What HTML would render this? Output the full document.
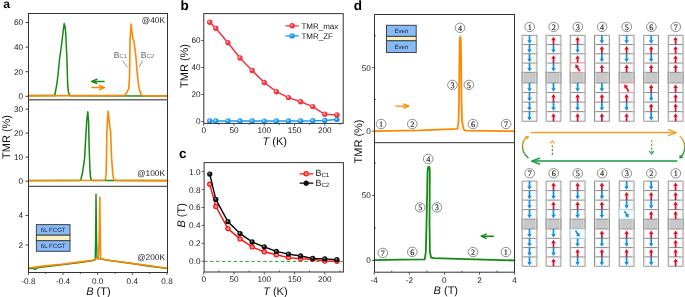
<!DOCTYPE html>
<html><head><meta charset="utf-8"><style>
html,body{margin:0;padding:0;background:#fff;width:685px;height:297px;overflow:hidden}
svg{display:block;will-change:transform}
text{font-family:"Liberation Sans",sans-serif;text-rendering:geometricPrecision} text.sf{font-family:"Liberation Serif",serif}
</style></head><body>
<svg width="685" height="297" viewBox="0 0 685 297" font-family='"Liberation Sans",sans-serif'>
<text x="3.2" y="8.2" font-size="12.2" text-anchor="start" fill="#000" font-weight="bold">a</text>
<line x1="25.5" y1="96.3" x2="28.5" y2="96.3" stroke="#333" stroke-width="0.9" />
<text x="23.0" y="99.25" font-size="8.2" text-anchor="end" fill="#222" >0</text>
<line x1="25.5" y1="71.7" x2="28.5" y2="71.7" stroke="#333" stroke-width="0.9" />
<text x="23.0" y="74.65" font-size="8.2" text-anchor="end" fill="#222" >20</text>
<line x1="25.5" y1="47.1" x2="28.5" y2="47.1" stroke="#333" stroke-width="0.9" />
<text x="23.0" y="50.050000000000004" font-size="8.2" text-anchor="end" fill="#222" >40</text>
<line x1="25.5" y1="22.5" x2="28.5" y2="22.5" stroke="#333" stroke-width="0.9" />
<text x="23.0" y="25.45" font-size="8.2" text-anchor="end" fill="#222" >60</text>
<line x1="25.5" y1="181.2" x2="28.5" y2="181.2" stroke="#333" stroke-width="0.9" />
<text x="23.0" y="184.14999999999998" font-size="8.2" text-anchor="end" fill="#222" >0</text>
<line x1="25.5" y1="157.2" x2="28.5" y2="157.2" stroke="#333" stroke-width="0.9" />
<text x="23.0" y="160.14999999999998" font-size="8.2" text-anchor="end" fill="#222" >10</text>
<line x1="25.5" y1="133.2" x2="28.5" y2="133.2" stroke="#333" stroke-width="0.9" />
<text x="23.0" y="136.14999999999998" font-size="8.2" text-anchor="end" fill="#222" >20</text>
<line x1="25.5" y1="109.2" x2="28.5" y2="109.2" stroke="#333" stroke-width="0.9" />
<text x="23.0" y="112.15" font-size="8.2" text-anchor="end" fill="#222" >30</text>
<line x1="25.5" y1="245" x2="28.5" y2="245" stroke="#333" stroke-width="0.9" />
<text x="23.0" y="247.95" font-size="8.2" text-anchor="end" fill="#222" >2</text>
<line x1="25.5" y1="215.4" x2="28.5" y2="215.4" stroke="#333" stroke-width="0.9" />
<text x="23.0" y="218.35" font-size="8.2" text-anchor="end" fill="#222" >4</text>
<line x1="28.4" y1="272.5" x2="28.4" y2="275.0" stroke="#333" stroke-width="0.8" />
<line x1="63.0" y1="272.5" x2="63.0" y2="275.0" stroke="#333" stroke-width="0.8" />
<line x1="97.7" y1="272.5" x2="97.7" y2="275.0" stroke="#333" stroke-width="0.8" />
<line x1="132.3" y1="272.5" x2="132.3" y2="275.0" stroke="#333" stroke-width="0.8" />
<line x1="167.0" y1="272.5" x2="167.0" y2="275.0" stroke="#333" stroke-width="0.8" />
<line x1="45.7" y1="272.5" x2="45.7" y2="274.0" stroke="#333" stroke-width="0.8" />
<line x1="80.4" y1="272.5" x2="80.4" y2="274.0" stroke="#333" stroke-width="0.8" />
<line x1="115.0" y1="272.5" x2="115.0" y2="274.0" stroke="#333" stroke-width="0.8" />
<line x1="149.7" y1="272.5" x2="149.7" y2="274.0" stroke="#333" stroke-width="0.8" />
<text x="28.4" y="283.7" font-size="8.2" text-anchor="middle" fill="#222" >-0.8</text>
<text x="63.0" y="283.7" font-size="8.2" text-anchor="middle" fill="#222" >-0.4</text>
<text x="97.7" y="283.7" font-size="8.2" text-anchor="middle" fill="#222" >0.0</text>
<text x="132.3" y="283.7" font-size="8.2" text-anchor="middle" fill="#222" >0.4</text>
<text x="167.0" y="283.7" font-size="8.2" text-anchor="middle" fill="#222" >0.8</text>
<text x="98.4" y="294.6" font-size="11" text-anchor="middle" fill="#111"><tspan font-style="italic">B</tspan> (T)</text>
<text transform="translate(9.6,137) rotate(-90)" font-size="11" text-anchor="middle" fill="#111">TMR (%)</text>
<polyline points="28.50,95.60 54.00,95.50 54.80,95.00 56.90,84.00 58.30,72.00 59.60,58.50 61.50,45.00 63.20,31.00 64.20,23.60 65.10,27.00 65.80,34.20 66.90,58.50 67.70,85.60 68.50,92.50 69.60,95.20 71.00,95.80 167.50,96.00" fill="none" stroke="#138a13" stroke-width="1.5" stroke-linejoin="round" stroke-linecap="round" />
<polyline points="28.50,95.90 124.50,95.40 126.40,93.40 128.80,88.50 129.50,77.20 129.80,58.00 130.10,38.20 131.10,24.10 131.90,31.50 132.80,38.20 133.90,41.00 135.80,56.00 137.00,70.10 138.40,84.20 139.80,91.30 141.20,94.50 142.60,95.60 167.50,96.10" fill="none" stroke="#ff8800" stroke-width="1.6" stroke-linejoin="round" stroke-linecap="round" />
<polyline points="104.00,81.40 91.80,81.40" fill="none" stroke="#138a13" stroke-width="1.5" stroke-linejoin="round" stroke-linecap="round" />
<polyline points="96.90,79.30 91.80,81.40 96.90,83.50" fill="none" stroke="#138a13" stroke-width="1.5" stroke-linejoin="round" stroke-linecap="round" />
<polyline points="92.00,87.50 104.30,87.50" fill="none" stroke="#ff8800" stroke-width="1.5" stroke-linejoin="round" stroke-linecap="round" />
<polyline points="99.40,85.40 104.30,87.50 99.40,89.60" fill="none" stroke="#ff8800" stroke-width="1.5" stroke-linejoin="round" stroke-linecap="round" />
<text x="113.8" y="58" font-size="8.6" fill="#707070">B<tspan font-size="5.8" dy="0">C1</tspan></text>
<text x="140.8" y="58" font-size="8.6" fill="#707070">B<tspan font-size="5.8" dy="0">C2</tspan></text>
<line x1="122.5" y1="60.4" x2="127.6" y2="67.4" stroke="#707070" stroke-width="0.7" />
<line x1="142.7" y1="60.4" x2="139.1" y2="67.0" stroke="#707070" stroke-width="0.7" />
<text x="165.0" y="22.8" font-size="8.3" text-anchor="end" fill="#1a1a1a" >@40K</text>
<polyline points="28.50,180.60 80.00,180.40 80.70,180.20 82.50,172.80 84.60,158.40 86.00,132.20 87.10,117.00 87.80,111.80 88.60,121.70 89.10,145.30 89.90,168.90 90.50,177.00 91.20,180.00 92.50,180.50 167.50,180.60" fill="none" stroke="#138a13" stroke-width="1.5" stroke-linejoin="round" stroke-linecap="round" />
<polyline points="28.50,180.80 104.60,180.20 105.30,179.50 106.10,174.00 106.40,160.00 106.90,132.20 107.60,118.00 108.20,111.20 109.50,124.30 110.60,132.20 111.60,158.40 112.70,172.80 113.50,178.50 114.30,180.20 116.00,180.40 167.50,180.90" fill="none" stroke="#ff8800" stroke-width="1.6" stroke-linejoin="round" stroke-linecap="round" />
<text x="165.0" y="175.5" font-size="8.3" text-anchor="end" fill="#1a1a1a" >@100K</text>
<polyline points="28.50,268.50 33.00,268.30 35.30,269.30 37.50,267.90 45.00,266.70 61.30,264.90 80.00,262.50 92.00,260.90 95.20,259.80 95.60,240.00 96.00,194.30 96.60,240.00 97.00,257.60 98.30,258.60 110.00,260.50 130.00,263.30 150.00,266.20 167.50,268.60" fill="none" stroke="#138a13" stroke-width="1.4" stroke-linejoin="round" stroke-linecap="round" />
<polyline points="28.50,268.00 45.00,265.90 61.30,264.30 80.00,261.90 92.00,260.30 98.40,258.40 99.20,240.00 99.80,197.30 100.30,240.00 100.60,258.80 110.00,260.50 130.00,263.10 150.00,265.80 167.50,268.30" fill="none" stroke="#ff8800" stroke-width="1.6" stroke-linejoin="round" stroke-linecap="round" />
<text x="165.0" y="260.2" font-size="8.3" text-anchor="end" fill="#1a1a1a" >@200K</text>
<rect x="36.4" y="224.6" width="33.6" height="10.599999999999994" fill="#88baf8" stroke="#444" stroke-width="1"/>
<rect x="36.4" y="235.2" width="33.6" height="5.5" fill="#fbf3bf" stroke="#444" stroke-width="1"/>
<rect x="36.4" y="240.7" width="33.6" height="10.600000000000023" fill="#88baf8" stroke="#444" stroke-width="1"/>
<text x="53.2" y="232.09599999999998" font-size="6.1" text-anchor="middle" fill="#1c2230" >6L FCGT</text>
<text x="53.2" y="248.196" font-size="6.1" text-anchor="middle" fill="#1c2230" >6L FCGT</text>
<rect x="28.5" y="13.5" width="139.0" height="259.0" fill="none" stroke="#333" stroke-width="1"/>
<line x1="28.5" y1="99.8" x2="167.5" y2="99.8" stroke="#6a6a6a" stroke-width="1.6" />
<line x1="28.5" y1="186.3" x2="167.5" y2="186.3" stroke="#333" stroke-width="1" />
<text x="180.4" y="9.8" font-size="13.5" text-anchor="start" fill="#000" font-weight="bold">b</text>
<line x1="201.3" y1="121.5" x2="203.8" y2="121.5" stroke="#333" stroke-width="0.8" />
<text x="200.5" y="124.45" font-size="8.2" text-anchor="end" fill="#222" >0</text>
<line x1="201.3" y1="94.5" x2="203.8" y2="94.5" stroke="#333" stroke-width="0.8" />
<text x="200.5" y="97.45" font-size="8.2" text-anchor="end" fill="#222" >20</text>
<line x1="201.3" y1="67.5" x2="203.8" y2="67.5" stroke="#333" stroke-width="0.8" />
<text x="200.5" y="70.45" font-size="8.2" text-anchor="end" fill="#222" >40</text>
<line x1="201.3" y1="40.5" x2="203.8" y2="40.5" stroke="#333" stroke-width="0.8" />
<text x="200.5" y="43.45" font-size="8.2" text-anchor="end" fill="#222" >60</text>
<line x1="203.7" y1="123.4" x2="203.7" y2="125.9" stroke="#333" stroke-width="0.8" />
<text x="203.7" y="133.3" font-size="8.2" text-anchor="middle" fill="#222" >0</text>
<line x1="233.975" y1="123.4" x2="233.975" y2="125.9" stroke="#333" stroke-width="0.8" />
<text x="233.975" y="133.3" font-size="8.2" text-anchor="middle" fill="#222" >50</text>
<line x1="264.25" y1="123.4" x2="264.25" y2="125.9" stroke="#333" stroke-width="0.8" />
<text x="264.25" y="133.3" font-size="8.2" text-anchor="middle" fill="#222" >100</text>
<line x1="294.525" y1="123.4" x2="294.525" y2="125.9" stroke="#333" stroke-width="0.8" />
<text x="294.525" y="133.3" font-size="8.2" text-anchor="middle" fill="#222" >150</text>
<line x1="324.8" y1="123.4" x2="324.8" y2="125.9" stroke="#333" stroke-width="0.8" />
<text x="324.8" y="133.3" font-size="8.2" text-anchor="middle" fill="#222" >200</text>
<line x1="218.83749999999998" y1="123.4" x2="218.83749999999998" y2="124.9" stroke="#333" stroke-width="0.8" />
<line x1="249.11249999999998" y1="123.4" x2="249.11249999999998" y2="124.9" stroke="#333" stroke-width="0.8" />
<line x1="279.3875" y1="123.4" x2="279.3875" y2="124.9" stroke="#333" stroke-width="0.8" />
<line x1="309.6625" y1="123.4" x2="309.6625" y2="124.9" stroke="#333" stroke-width="0.8" />
<line x1="339.9375" y1="123.4" x2="339.9375" y2="124.9" stroke="#333" stroke-width="0.8" />
<text x="274.8" y="145.2" font-size="11" text-anchor="middle" fill="#111"><tspan font-style="italic">T</tspan> (K)</text>
<text transform="translate(188.0,66) rotate(-90)" font-size="11" text-anchor="middle" fill="#111">TMR (%)</text>
<polyline points="209.75,121.00 215.81,121.00 227.92,121.00 240.03,121.00 252.14,121.00 264.25,121.10 276.36,121.00 288.47,121.00 300.58,120.90 312.69,120.80 324.80,120.40 336.91,119.40" fill="none" stroke="#179cf5" stroke-width="1.5" stroke-linejoin="round" stroke-linecap="round" />
<circle cx="209.75" cy="121.00" r="2.7" fill="#179cf5"/>
<circle cx="209.16" cy="120.40" r="1.13" fill="#9fd6ff"/>
<circle cx="215.81" cy="121.00" r="2.7" fill="#179cf5"/>
<circle cx="215.21" cy="120.40" r="1.13" fill="#9fd6ff"/>
<circle cx="227.92" cy="121.00" r="2.7" fill="#179cf5"/>
<circle cx="227.32" cy="120.40" r="1.13" fill="#9fd6ff"/>
<circle cx="240.03" cy="121.00" r="2.7" fill="#179cf5"/>
<circle cx="239.43" cy="120.40" r="1.13" fill="#9fd6ff"/>
<circle cx="252.14" cy="121.00" r="2.7" fill="#179cf5"/>
<circle cx="251.54" cy="120.40" r="1.13" fill="#9fd6ff"/>
<circle cx="264.25" cy="121.10" r="2.7" fill="#179cf5"/>
<circle cx="263.65" cy="120.50" r="1.13" fill="#9fd6ff"/>
<circle cx="276.36" cy="121.00" r="2.7" fill="#179cf5"/>
<circle cx="275.76" cy="120.40" r="1.13" fill="#9fd6ff"/>
<circle cx="288.47" cy="121.00" r="2.7" fill="#179cf5"/>
<circle cx="287.87" cy="120.40" r="1.13" fill="#9fd6ff"/>
<circle cx="300.58" cy="120.90" r="2.7" fill="#179cf5"/>
<circle cx="299.98" cy="120.30" r="1.13" fill="#9fd6ff"/>
<circle cx="312.69" cy="120.80" r="2.7" fill="#179cf5"/>
<circle cx="312.09" cy="120.20" r="1.13" fill="#9fd6ff"/>
<circle cx="324.80" cy="120.40" r="2.7" fill="#179cf5"/>
<circle cx="324.20" cy="119.80" r="1.13" fill="#9fd6ff"/>
<circle cx="336.91" cy="119.40" r="2.7" fill="#179cf5"/>
<circle cx="336.31" cy="118.80" r="1.13" fill="#9fd6ff"/>
<polyline points="209.75,22.20 215.81,28.20 227.92,42.70 240.03,58.00 252.14,70.50 264.25,82.50 276.36,91.70 288.47,97.60 300.58,101.80 312.69,106.60 324.80,114.30 336.91,114.90" fill="none" stroke="#f2343f" stroke-width="1.5" stroke-linejoin="round" stroke-linecap="round" />
<circle cx="209.75" cy="22.20" r="2.7" fill="#f2343f"/>
<circle cx="209.16" cy="21.60" r="1.13" fill="#ffb0b5"/>
<circle cx="215.81" cy="28.20" r="2.7" fill="#f2343f"/>
<circle cx="215.21" cy="27.60" r="1.13" fill="#ffb0b5"/>
<circle cx="227.92" cy="42.70" r="2.7" fill="#f2343f"/>
<circle cx="227.32" cy="42.10" r="1.13" fill="#ffb0b5"/>
<circle cx="240.03" cy="58.00" r="2.7" fill="#f2343f"/>
<circle cx="239.43" cy="57.40" r="1.13" fill="#ffb0b5"/>
<circle cx="252.14" cy="70.50" r="2.7" fill="#f2343f"/>
<circle cx="251.54" cy="69.90" r="1.13" fill="#ffb0b5"/>
<circle cx="264.25" cy="82.50" r="2.7" fill="#f2343f"/>
<circle cx="263.65" cy="81.90" r="1.13" fill="#ffb0b5"/>
<circle cx="276.36" cy="91.70" r="2.7" fill="#f2343f"/>
<circle cx="275.76" cy="91.10" r="1.13" fill="#ffb0b5"/>
<circle cx="288.47" cy="97.60" r="2.7" fill="#f2343f"/>
<circle cx="287.87" cy="97.00" r="1.13" fill="#ffb0b5"/>
<circle cx="300.58" cy="101.80" r="2.7" fill="#f2343f"/>
<circle cx="299.98" cy="101.20" r="1.13" fill="#ffb0b5"/>
<circle cx="312.69" cy="106.60" r="2.7" fill="#f2343f"/>
<circle cx="312.09" cy="106.00" r="1.13" fill="#ffb0b5"/>
<circle cx="324.80" cy="114.30" r="2.7" fill="#f2343f"/>
<circle cx="324.20" cy="113.70" r="1.13" fill="#ffb0b5"/>
<circle cx="336.91" cy="114.90" r="2.7" fill="#f2343f"/>
<circle cx="336.31" cy="114.30" r="1.13" fill="#ffb0b5"/>
<polyline points="285.80,25.80 298.30,25.80" fill="none" stroke="#f2343f" stroke-width="1.3" stroke-linejoin="round" stroke-linecap="round" />
<circle cx="292.1" cy="25.8" r="2.7" fill="#f2343f"/><circle cx="291.5" cy="25.2" r="1" fill="#ffb0b5"/>
<text x="301.4" y="28.6" font-size="8" text-anchor="start" fill="#222" >TMR_max</text>
<polyline points="285.80,35.90 298.30,35.90" fill="none" stroke="#179cf5" stroke-width="1.3" stroke-linejoin="round" stroke-linecap="round" />
<circle cx="292.1" cy="35.9" r="2.7" fill="#179cf5"/><circle cx="291.5" cy="35.3" r="1" fill="#9fd6ff"/>
<text x="301.4" y="38.7" font-size="8" text-anchor="start" fill="#222" >TMR_ZF</text>
<rect x="203.8" y="13.6" width="139.39999999999998" height="109.80000000000001" fill="none" stroke="#333" stroke-width="1"/>
<text x="179.0" y="157.6" font-size="13.4" text-anchor="start" fill="#000" font-weight="bold">c</text>
<line x1="201.6" y1="261.2" x2="204.1" y2="261.2" stroke="#333" stroke-width="0.8" />
<text x="200.5" y="264.15" font-size="8.2" text-anchor="end" fill="#222" >0.0</text>
<line x1="201.6" y1="243.29999999999998" x2="204.1" y2="243.29999999999998" stroke="#333" stroke-width="0.8" />
<text x="200.5" y="246.24999999999997" font-size="8.2" text-anchor="end" fill="#222" >0.2</text>
<line x1="201.6" y1="225.39999999999998" x2="204.1" y2="225.39999999999998" stroke="#333" stroke-width="0.8" />
<text x="200.5" y="228.34999999999997" font-size="8.2" text-anchor="end" fill="#222" >0.4</text>
<line x1="201.6" y1="207.5" x2="204.1" y2="207.5" stroke="#333" stroke-width="0.8" />
<text x="200.5" y="210.45" font-size="8.2" text-anchor="end" fill="#222" >0.6</text>
<line x1="201.6" y1="189.59999999999997" x2="204.1" y2="189.59999999999997" stroke="#333" stroke-width="0.8" />
<text x="200.5" y="192.54999999999995" font-size="8.2" text-anchor="end" fill="#222" >0.8</text>
<line x1="201.6" y1="171.7" x2="204.1" y2="171.7" stroke="#333" stroke-width="0.8" />
<text x="200.5" y="174.64999999999998" font-size="8.2" text-anchor="end" fill="#222" >1.0</text>
<line x1="203.7" y1="272.0" x2="203.7" y2="274.5" stroke="#333" stroke-width="0.8" />
<text x="203.7" y="282.4" font-size="8.2" text-anchor="middle" fill="#222" >0</text>
<line x1="233.975" y1="272.0" x2="233.975" y2="274.5" stroke="#333" stroke-width="0.8" />
<text x="233.975" y="282.4" font-size="8.2" text-anchor="middle" fill="#222" >50</text>
<line x1="264.25" y1="272.0" x2="264.25" y2="274.5" stroke="#333" stroke-width="0.8" />
<text x="264.25" y="282.4" font-size="8.2" text-anchor="middle" fill="#222" >100</text>
<line x1="294.525" y1="272.0" x2="294.525" y2="274.5" stroke="#333" stroke-width="0.8" />
<text x="294.525" y="282.4" font-size="8.2" text-anchor="middle" fill="#222" >150</text>
<line x1="324.8" y1="272.0" x2="324.8" y2="274.5" stroke="#333" stroke-width="0.8" />
<text x="324.8" y="282.4" font-size="8.2" text-anchor="middle" fill="#222" >200</text>
<line x1="218.83749999999998" y1="272.0" x2="218.83749999999998" y2="270.5" stroke="#333" stroke-width="0.8" />
<line x1="249.11249999999998" y1="272.0" x2="249.11249999999998" y2="270.5" stroke="#333" stroke-width="0.8" />
<line x1="279.3875" y1="272.0" x2="279.3875" y2="270.5" stroke="#333" stroke-width="0.8" />
<line x1="309.6625" y1="272.0" x2="309.6625" y2="270.5" stroke="#333" stroke-width="0.8" />
<line x1="339.9375" y1="272.0" x2="339.9375" y2="270.5" stroke="#333" stroke-width="0.8" />
<text x="275.4" y="295.3" font-size="11" text-anchor="middle" fill="#111"><tspan font-style="italic">T</tspan> (K)</text>
<text transform="translate(185.2,215.4) rotate(-90)" font-size="11" text-anchor="middle" fill="#111"><tspan font-style="italic">B</tspan> (T)</text>
<line x1="204.1" y1="261.4" x2="343.4" y2="261.4" stroke="#2ca02c" stroke-width="1" stroke-dasharray="3.5,2.4"/>
<polyline points="209.75,184.30 215.81,206.40 227.92,228.60 240.03,238.90 252.14,246.90 264.25,251.80 276.36,254.70 288.47,257.60 300.58,258.70 312.69,259.30 324.80,261.00 336.91,261.30" fill="none" stroke="#ff1010" stroke-width="1.4" stroke-linejoin="round" stroke-linecap="round" />
<circle cx="209.75" cy="184.3" r="2.1" fill="#ff9090" stroke="#ff1010" stroke-width="1.2"/>
<circle cx="215.81" cy="206.4" r="2.1" fill="#ff9090" stroke="#ff1010" stroke-width="1.2"/>
<circle cx="227.92" cy="228.6" r="2.1" fill="#ff9090" stroke="#ff1010" stroke-width="1.2"/>
<circle cx="240.03" cy="238.9" r="2.1" fill="#ff9090" stroke="#ff1010" stroke-width="1.2"/>
<circle cx="252.14" cy="246.9" r="2.1" fill="#ff9090" stroke="#ff1010" stroke-width="1.2"/>
<circle cx="264.25" cy="251.8" r="2.1" fill="#ff9090" stroke="#ff1010" stroke-width="1.2"/>
<circle cx="276.36" cy="254.7" r="2.1" fill="#ff9090" stroke="#ff1010" stroke-width="1.2"/>
<circle cx="288.47" cy="257.6" r="2.1" fill="#ff9090" stroke="#ff1010" stroke-width="1.2"/>
<circle cx="300.58" cy="258.7" r="2.1" fill="#ff9090" stroke="#ff1010" stroke-width="1.2"/>
<circle cx="312.69" cy="259.3" r="2.1" fill="#ff9090" stroke="#ff1010" stroke-width="1.2"/>
<circle cx="324.80" cy="261.0" r="2.1" fill="#ff9090" stroke="#ff1010" stroke-width="1.2"/>
<circle cx="336.91" cy="261.3" r="2.1" fill="#ff9090" stroke="#ff1010" stroke-width="1.2"/>
<polyline points="209.75,174.10 215.81,199.30 227.92,221.70 240.03,233.60 252.14,241.90 264.25,246.80 276.36,251.40 288.47,254.10 300.58,256.00 312.69,258.40 324.80,258.90 336.91,259.70" fill="none" stroke="#000" stroke-width="1.4" stroke-linejoin="round" stroke-linecap="round" />
<circle cx="209.75" cy="174.1" r="2.65" fill="#111"/>
<circle cx="209.25" cy="173.5" r="0.9" fill="#888"/>
<circle cx="215.81" cy="199.3" r="2.65" fill="#111"/>
<circle cx="215.31" cy="198.70000000000002" r="0.9" fill="#888"/>
<circle cx="227.92" cy="221.7" r="2.65" fill="#111"/>
<circle cx="227.42" cy="221.1" r="0.9" fill="#888"/>
<circle cx="240.03" cy="233.6" r="2.65" fill="#111"/>
<circle cx="239.53" cy="233.0" r="0.9" fill="#888"/>
<circle cx="252.14" cy="241.9" r="2.65" fill="#111"/>
<circle cx="251.64" cy="241.3" r="0.9" fill="#888"/>
<circle cx="264.25" cy="246.8" r="2.65" fill="#111"/>
<circle cx="263.75" cy="246.20000000000002" r="0.9" fill="#888"/>
<circle cx="276.36" cy="251.4" r="2.65" fill="#111"/>
<circle cx="275.86" cy="250.8" r="0.9" fill="#888"/>
<circle cx="288.47" cy="254.1" r="2.65" fill="#111"/>
<circle cx="287.97" cy="253.5" r="0.9" fill="#888"/>
<circle cx="300.58" cy="256.0" r="2.65" fill="#111"/>
<circle cx="300.08" cy="255.4" r="0.9" fill="#888"/>
<circle cx="312.69" cy="258.4" r="2.65" fill="#111"/>
<circle cx="312.19" cy="257.79999999999995" r="0.9" fill="#888"/>
<circle cx="324.80" cy="258.9" r="2.65" fill="#111"/>
<circle cx="324.30" cy="258.29999999999995" r="0.9" fill="#888"/>
<circle cx="336.91" cy="259.7" r="2.65" fill="#111"/>
<circle cx="336.41" cy="259.09999999999997" r="0.9" fill="#888"/>
<polyline points="300.10,173.80 312.80,173.80" fill="none" stroke="#ff1010" stroke-width="1.3" stroke-linejoin="round" stroke-linecap="round" />
<circle cx="306.2" cy="173.8" r="2.1" fill="#ff9090" stroke="#ff1010" stroke-width="1.2"/>
<text x="315.4" y="176.3" font-size="9" fill="#111">B<tspan font-size="6.2" dy="0.7">C1</tspan></text>
<polyline points="300.10,183.20 312.80,183.20" fill="none" stroke="#000" stroke-width="1.3" stroke-linejoin="round" stroke-linecap="round" />
<circle cx="306.2" cy="183.2" r="2.6" fill="#111"/>
<text x="315.4" y="185.9" font-size="9" fill="#111">B<tspan font-size="6.2" dy="0.7">C2</tspan></text>
<rect x="204.1" y="162.6" width="139.29999999999998" height="109.4" fill="none" stroke="#333" stroke-width="1"/>
<text x="353.7" y="9.8" font-size="13.5" text-anchor="start" fill="#000" font-weight="bold">d</text>
<line x1="372.0" y1="131.2" x2="374.5" y2="131.2" stroke="#333" stroke-width="0.8" />
<text x="370.9" y="134.14999999999998" font-size="8.2" text-anchor="end" fill="#222" >0</text>
<line x1="372.0" y1="67.6" x2="374.5" y2="67.6" stroke="#333" stroke-width="0.8" />
<text x="370.9" y="70.55" font-size="8.2" text-anchor="end" fill="#222" >50</text>
<line x1="372.0" y1="260.4" x2="374.5" y2="260.4" stroke="#333" stroke-width="0.8" />
<text x="370.9" y="263.34999999999997" font-size="8.2" text-anchor="end" fill="#222" >0</text>
<line x1="372.0" y1="195.5" x2="374.5" y2="195.5" stroke="#333" stroke-width="0.8" />
<text x="370.9" y="198.45" font-size="8.2" text-anchor="end" fill="#222" >50</text>
<line x1="374.2" y1="272.2" x2="374.2" y2="274.7" stroke="#333" stroke-width="0.8" />
<text x="374.2" y="283.3" font-size="8.2" text-anchor="middle" fill="#222" >-4</text>
<line x1="409.29999999999995" y1="272.2" x2="409.29999999999995" y2="274.7" stroke="#333" stroke-width="0.8" />
<text x="409.29999999999995" y="283.3" font-size="8.2" text-anchor="middle" fill="#222" >-2</text>
<line x1="444.4" y1="272.2" x2="444.4" y2="274.7" stroke="#333" stroke-width="0.8" />
<text x="444.4" y="283.3" font-size="8.2" text-anchor="middle" fill="#222" >0</text>
<line x1="479.5" y1="272.2" x2="479.5" y2="274.7" stroke="#333" stroke-width="0.8" />
<text x="479.5" y="283.3" font-size="8.2" text-anchor="middle" fill="#222" >2</text>
<line x1="514.6" y1="272.2" x2="514.6" y2="274.7" stroke="#333" stroke-width="0.8" />
<text x="514.6" y="283.3" font-size="8.2" text-anchor="middle" fill="#222" >4</text>
<line x1="391.75" y1="272.2" x2="391.75" y2="270.7" stroke="#333" stroke-width="0.8" />
<line x1="426.84999999999997" y1="272.2" x2="426.84999999999997" y2="270.7" stroke="#333" stroke-width="0.8" />
<line x1="461.95" y1="272.2" x2="461.95" y2="270.7" stroke="#333" stroke-width="0.8" />
<line x1="497.04999999999995" y1="272.2" x2="497.04999999999995" y2="270.7" stroke="#333" stroke-width="0.8" />
<line x1="374.5" y1="99.4" x2="376.0" y2="99.4" stroke="#333" stroke-width="0.8" />
<line x1="374.5" y1="35.8" x2="376.0" y2="35.8" stroke="#333" stroke-width="0.8" />
<line x1="374.5" y1="228" x2="376.0" y2="228" stroke="#333" stroke-width="0.8" />
<line x1="374.5" y1="163" x2="376.0" y2="163" stroke="#333" stroke-width="0.8" />
<text x="445.8" y="293.5" font-size="11" text-anchor="middle" fill="#111"><tspan font-style="italic">B</tspan> (T)</text>
<text transform="translate(362.2,141.5) rotate(-90)" font-size="11" text-anchor="middle" fill="#111">TMR (%)</text>
<rect x="386.5" y="25.3" width="29.69999999999999" height="11.099999999999998" fill="#88baf8" stroke="#444" stroke-width="1"/>
<rect x="386.5" y="36.4" width="29.69999999999999" height="4.399999999999999" fill="#fbf3bf" stroke="#444" stroke-width="1"/>
<rect x="386.5" y="40.8" width="29.69999999999999" height="11.700000000000003" fill="#88baf8" stroke="#444" stroke-width="1"/>
<text x="401.35" y="33.046" font-size="6.1" text-anchor="middle" fill="#1c2230" >Even</text>
<text x="401.35" y="48.846" font-size="6.1" text-anchor="middle" fill="#1c2230" >Even</text>
<polyline points="374.50,131.20 420.00,130.40 457.40,128.90 458.60,121.20 459.00,100.00 459.40,60.00 459.70,40.00 460.20,36.30 460.80,40.00 461.10,60.00 461.50,100.00 462.00,121.20 463.80,129.60 466.00,130.60 514.50,131.20" fill="none" stroke="#ff8800" stroke-width="1.8" stroke-linejoin="round" stroke-linecap="round" />
<polyline points="374.50,260.20 400.00,259.70 424.80,259.30 425.80,252.00 426.50,225.00 427.20,190.00 427.50,172.00 428.10,167.40 428.80,166.60 429.50,167.40 429.80,172.00 429.70,190.00 429.50,225.00 429.90,252.00 431.10,257.50 434.00,258.10 466.00,259.10 514.50,260.40" fill="none" stroke="#138a13" stroke-width="1.8" stroke-linejoin="round" stroke-linecap="round" />
<polyline points="395.90,106.10 408.50,106.10" fill="none" stroke="#ff8800" stroke-width="1.4" stroke-linejoin="round" stroke-linecap="round" />
<polyline points="403.80,104.10 408.50,106.10 403.80,108.10" fill="none" stroke="#ff8800" stroke-width="1.4" stroke-linejoin="round" stroke-linecap="round" />
<polyline points="493.40,236.20 481.40,236.20" fill="none" stroke="#138a13" stroke-width="1.4" stroke-linejoin="round" stroke-linecap="round" />
<polyline points="486.20,234.10 481.40,236.20 486.20,238.30" fill="none" stroke="#138a13" stroke-width="1.4" stroke-linejoin="round" stroke-linecap="round" />
<ellipse cx="381.1" cy="124" rx="4.85" ry="4.699999999999999" fill="none" stroke="#444" stroke-width="0.6"/>
<text x="381.1" y="126.71" font-size="8.2" text-anchor="middle" fill="#111" class="sf" stroke="#111" stroke-width="0.12">1</text>
<ellipse cx="412.3" cy="124" rx="4.85" ry="4.699999999999999" fill="none" stroke="#444" stroke-width="0.6"/>
<text x="412.3" y="126.71" font-size="8.2" text-anchor="middle" fill="#111" class="sf" stroke="#111" stroke-width="0.12">2</text>
<ellipse cx="452.5" cy="84.9" rx="4.85" ry="4.699999999999999" fill="none" stroke="#444" stroke-width="0.6"/>
<text x="452.5" y="87.61" font-size="8.2" text-anchor="middle" fill="#111" class="sf" stroke="#111" stroke-width="0.12">3</text>
<ellipse cx="460" cy="27.8" rx="4.85" ry="4.699999999999999" fill="none" stroke="#444" stroke-width="0.6"/>
<text x="460" y="30.51" font-size="8.2" text-anchor="middle" fill="#111" class="sf" stroke="#111" stroke-width="0.12">4</text>
<ellipse cx="468.9" cy="84.9" rx="4.85" ry="4.699999999999999" fill="none" stroke="#444" stroke-width="0.6"/>
<text x="468.9" y="87.61" font-size="8.2" text-anchor="middle" fill="#111" class="sf" stroke="#111" stroke-width="0.12">5</text>
<ellipse cx="473" cy="124.1" rx="4.85" ry="4.699999999999999" fill="none" stroke="#444" stroke-width="0.6"/>
<text x="473" y="126.81" font-size="8.2" text-anchor="middle" fill="#111" class="sf" stroke="#111" stroke-width="0.12">6</text>
<ellipse cx="506.1" cy="124" rx="4.85" ry="4.699999999999999" fill="none" stroke="#444" stroke-width="0.6"/>
<text x="506.1" y="126.71" font-size="8.2" text-anchor="middle" fill="#111" class="sf" stroke="#111" stroke-width="0.12">7</text>
<ellipse cx="428.2" cy="158.9" rx="4.85" ry="4.699999999999999" fill="none" stroke="#444" stroke-width="0.6"/>
<text x="428.2" y="161.61" font-size="8.2" text-anchor="middle" fill="#111" class="sf" stroke="#111" stroke-width="0.12">4</text>
<ellipse cx="420.2" cy="207.4" rx="4.85" ry="4.699999999999999" fill="none" stroke="#444" stroke-width="0.6"/>
<text x="420.2" y="210.11" font-size="8.2" text-anchor="middle" fill="#111" class="sf" stroke="#111" stroke-width="0.12">5</text>
<ellipse cx="436.9" cy="207.4" rx="4.85" ry="4.699999999999999" fill="none" stroke="#444" stroke-width="0.6"/>
<text x="436.9" y="210.11" font-size="8.2" text-anchor="middle" fill="#111" class="sf" stroke="#111" stroke-width="0.12">3</text>
<ellipse cx="382.8" cy="252.9" rx="4.85" ry="4.699999999999999" fill="none" stroke="#444" stroke-width="0.6"/>
<text x="382.8" y="255.61" font-size="8.2" text-anchor="middle" fill="#111" class="sf" stroke="#111" stroke-width="0.12">7</text>
<ellipse cx="412.3" cy="251.9" rx="4.85" ry="4.699999999999999" fill="none" stroke="#444" stroke-width="0.6"/>
<text x="412.3" y="254.61" font-size="8.2" text-anchor="middle" fill="#111" class="sf" stroke="#111" stroke-width="0.12">6</text>
<ellipse cx="473" cy="252.1" rx="4.85" ry="4.699999999999999" fill="none" stroke="#444" stroke-width="0.6"/>
<text x="473" y="254.81" font-size="8.2" text-anchor="middle" fill="#111" class="sf" stroke="#111" stroke-width="0.12">2</text>
<ellipse cx="505.9" cy="252" rx="4.85" ry="4.699999999999999" fill="none" stroke="#444" stroke-width="0.6"/>
<text x="505.9" y="254.71" font-size="8.2" text-anchor="middle" fill="#111" class="sf" stroke="#111" stroke-width="0.12">1</text>
<rect x="374.5" y="14.5" width="140.0" height="257.7" fill="none" stroke="#333" stroke-width="1"/>
<line x1="374.5" y1="142.7" x2="514.5" y2="142.7" stroke="#333" stroke-width="1" />
<rect x="522.1" y="35.3" width="14.8" height="85.9" fill="#fff" stroke="#858585" stroke-width="0.9"/>
<line x1="522.1" y1="44.55" x2="536.9" y2="44.55" stroke="#707070" stroke-width="0.85"/>
<line x1="522.1" y1="53.8" x2="536.9" y2="53.8" stroke="#707070" stroke-width="0.85"/>
<line x1="522.1" y1="63.05" x2="536.9" y2="63.05" stroke="#707070" stroke-width="0.85"/>
<line x1="522.1" y1="92.55" x2="536.9" y2="92.55" stroke="#707070" stroke-width="0.85"/>
<line x1="522.1" y1="102.1" x2="536.9" y2="102.1" stroke="#707070" stroke-width="0.85"/>
<line x1="522.1" y1="111.65" x2="536.9" y2="111.65" stroke="#707070" stroke-width="0.85"/>
<rect x="522.1" y="72.3" width="14.8" height="10.7" fill="#c8c8c8" stroke="#8a8a8a" stroke-width="0.9"/>
<line x1="523.2" y1="35.3" x2="523.2" y2="121.2" stroke="#e2e2e2" stroke-width="0.7"/>
<line x1="535.8" y1="35.3" x2="535.8" y2="121.2" stroke="#e2e2e2" stroke-width="0.7"/>
<line x1="529.5" y1="35.3" x2="529.5" y2="40.75" stroke="#1590da" stroke-width="1.75"/>
<polygon points="527.2,40.25 531.8,40.25 529.5,43.75" fill="#1590da"/>
<line x1="529.5" y1="44.55" x2="529.5" y2="50.0" stroke="#1590da" stroke-width="1.75"/>
<polygon points="527.2,49.5 531.8,49.5 529.5,53.0" fill="#1590da"/>
<line x1="529.5" y1="53.8" x2="529.5" y2="59.25" stroke="#1590da" stroke-width="1.75"/>
<polygon points="527.2,58.75 531.8,58.75 529.5,62.25" fill="#1590da"/>
<line x1="529.5" y1="63.05" x2="529.5" y2="68.5" stroke="#1590da" stroke-width="1.75"/>
<polygon points="527.2,68.0 531.8,68.0 529.5,71.5" fill="#1590da"/>
<line x1="529.5" y1="83.0" x2="529.5" y2="88.75" stroke="#1590da" stroke-width="1.75"/>
<polygon points="527.2,88.25 531.8,88.25 529.5,91.75" fill="#1590da"/>
<line x1="529.5" y1="92.55" x2="529.5" y2="98.3" stroke="#1590da" stroke-width="1.75"/>
<polygon points="527.2,97.8 531.8,97.8 529.5,101.3" fill="#1590da"/>
<line x1="529.5" y1="102.1" x2="529.5" y2="107.85000000000001" stroke="#1590da" stroke-width="1.75"/>
<polygon points="527.2,107.35000000000001 531.8,107.35000000000001 529.5,110.85000000000001" fill="#1590da"/>
<line x1="529.5" y1="111.65" x2="529.5" y2="117.4" stroke="#1590da" stroke-width="1.75"/>
<polygon points="527.2,116.9 531.8,116.9 529.5,120.4" fill="#1590da"/>
<ellipse cx="529.7" cy="26.9" rx="4.85" ry="4.699999999999999" fill="none" stroke="#444" stroke-width="0.6"/>
<text x="529.7" y="29.61" font-size="8.2" text-anchor="middle" fill="#111" class="sf" stroke="#111" stroke-width="0.12">1</text>
<rect x="522.1" y="181.1" width="14.8" height="85.1" fill="#fff" stroke="#858585" stroke-width="0.9"/>
<line x1="522.1" y1="190.6" x2="536.9" y2="190.6" stroke="#707070" stroke-width="0.85"/>
<line x1="522.1" y1="200.1" x2="536.9" y2="200.1" stroke="#707070" stroke-width="0.85"/>
<line x1="522.1" y1="209.6" x2="536.9" y2="209.6" stroke="#707070" stroke-width="0.85"/>
<line x1="522.1" y1="238.3" x2="536.9" y2="238.3" stroke="#707070" stroke-width="0.85"/>
<line x1="522.1" y1="247.6" x2="536.9" y2="247.6" stroke="#707070" stroke-width="0.85"/>
<line x1="522.1" y1="256.9" x2="536.9" y2="256.9" stroke="#707070" stroke-width="0.85"/>
<rect x="522.1" y="219.1" width="14.8" height="9.9" fill="#c8c8c8" stroke="#8a8a8a" stroke-width="0.9"/>
<line x1="523.2" y1="181.1" x2="523.2" y2="266.2" stroke="#e2e2e2" stroke-width="0.7"/>
<line x1="535.8" y1="181.1" x2="535.8" y2="266.2" stroke="#e2e2e2" stroke-width="0.7"/>
<line x1="529.5" y1="181.1" x2="529.5" y2="186.79999999999998" stroke="#1590da" stroke-width="1.75"/>
<polygon points="527.2,186.29999999999998 531.8,186.29999999999998 529.5,189.79999999999998" fill="#1590da"/>
<line x1="529.5" y1="190.6" x2="529.5" y2="196.29999999999998" stroke="#1590da" stroke-width="1.75"/>
<polygon points="527.2,195.79999999999998 531.8,195.79999999999998 529.5,199.29999999999998" fill="#1590da"/>
<line x1="529.5" y1="200.1" x2="529.5" y2="205.79999999999998" stroke="#1590da" stroke-width="1.75"/>
<polygon points="527.2,205.29999999999998 531.8,205.29999999999998 529.5,208.79999999999998" fill="#1590da"/>
<line x1="529.5" y1="209.6" x2="529.5" y2="215.29999999999998" stroke="#1590da" stroke-width="1.75"/>
<polygon points="527.2,214.79999999999998 531.8,214.79999999999998 529.5,218.29999999999998" fill="#1590da"/>
<line x1="529.5" y1="229.0" x2="529.5" y2="234.5" stroke="#1590da" stroke-width="1.75"/>
<polygon points="527.2,234.0 531.8,234.0 529.5,237.5" fill="#1590da"/>
<line x1="529.5" y1="238.3" x2="529.5" y2="243.79999999999998" stroke="#1590da" stroke-width="1.75"/>
<polygon points="527.2,243.29999999999998 531.8,243.29999999999998 529.5,246.79999999999998" fill="#1590da"/>
<line x1="529.5" y1="247.6" x2="529.5" y2="253.09999999999997" stroke="#1590da" stroke-width="1.75"/>
<polygon points="527.2,252.59999999999997 531.8,252.59999999999997 529.5,256.09999999999997" fill="#1590da"/>
<line x1="529.5" y1="256.9" x2="529.5" y2="262.4" stroke="#1590da" stroke-width="1.75"/>
<polygon points="527.2,261.9 531.8,261.9 529.5,265.4" fill="#1590da"/>
<ellipse cx="529.7" cy="173.3" rx="4.85" ry="4.699999999999999" fill="none" stroke="#444" stroke-width="0.6"/>
<text x="529.7" y="176.01" font-size="8.2" text-anchor="middle" fill="#111" class="sf" stroke="#111" stroke-width="0.12">7</text>
<rect x="546.1" y="35.3" width="14.8" height="85.9" fill="#fff" stroke="#858585" stroke-width="0.9"/>
<line x1="546.1" y1="44.55" x2="560.9" y2="44.55" stroke="#707070" stroke-width="0.85"/>
<line x1="546.1" y1="53.8" x2="560.9" y2="53.8" stroke="#707070" stroke-width="0.85"/>
<line x1="546.1" y1="63.05" x2="560.9" y2="63.05" stroke="#707070" stroke-width="0.85"/>
<line x1="546.1" y1="92.55" x2="560.9" y2="92.55" stroke="#707070" stroke-width="0.85"/>
<line x1="546.1" y1="102.1" x2="560.9" y2="102.1" stroke="#707070" stroke-width="0.85"/>
<line x1="546.1" y1="111.65" x2="560.9" y2="111.65" stroke="#707070" stroke-width="0.85"/>
<rect x="546.1" y="72.3" width="14.8" height="10.7" fill="#c8c8c8" stroke="#8a8a8a" stroke-width="0.9"/>
<line x1="547.2" y1="35.3" x2="547.2" y2="121.2" stroke="#e2e2e2" stroke-width="0.7"/>
<line x1="559.8" y1="35.3" x2="559.8" y2="121.2" stroke="#e2e2e2" stroke-width="0.7"/>
<line x1="553.5" y1="44.55" x2="553.5" y2="39.8" stroke="#d8102c" stroke-width="1.75"/>
<polygon points="551.2,40.3 555.8,40.3 553.5,36.8" fill="#d8102c"/>
<line x1="553.5" y1="44.55" x2="553.5" y2="50.0" stroke="#1590da" stroke-width="1.75"/>
<polygon points="551.2,49.5 555.8,49.5 553.5,53.0" fill="#1590da"/>
<line x1="553.5" y1="63.05" x2="553.5" y2="58.3" stroke="#d8102c" stroke-width="1.75"/>
<polygon points="551.2,58.8 555.8,58.8 553.5,55.3" fill="#d8102c"/>
<line x1="553.5" y1="63.05" x2="553.5" y2="68.5" stroke="#1590da" stroke-width="1.75"/>
<polygon points="551.2,68.0 555.8,68.0 553.5,71.5" fill="#1590da"/>
<line x1="553.5" y1="83.0" x2="553.5" y2="88.75" stroke="#1590da" stroke-width="1.75"/>
<polygon points="551.2,88.25 555.8,88.25 553.5,91.75" fill="#1590da"/>
<line x1="553.5" y1="102.1" x2="553.5" y2="97.05" stroke="#d8102c" stroke-width="1.75"/>
<polygon points="551.2,97.55 555.8,97.55 553.5,94.05" fill="#d8102c"/>
<line x1="553.5" y1="102.1" x2="553.5" y2="107.85000000000001" stroke="#1590da" stroke-width="1.75"/>
<polygon points="551.2,107.35000000000001 555.8,107.35000000000001 553.5,110.85000000000001" fill="#1590da"/>
<line x1="553.5" y1="121.2" x2="553.5" y2="116.15" stroke="#d8102c" stroke-width="1.75"/>
<polygon points="551.2,116.65 555.8,116.65 553.5,113.15" fill="#d8102c"/>
<ellipse cx="553.7" cy="26.9" rx="4.85" ry="4.699999999999999" fill="none" stroke="#444" stroke-width="0.6"/>
<text x="553.7" y="29.61" font-size="8.2" text-anchor="middle" fill="#111" class="sf" stroke="#111" stroke-width="0.12">2</text>
<rect x="546.1" y="181.1" width="14.8" height="85.1" fill="#fff" stroke="#858585" stroke-width="0.9"/>
<line x1="546.1" y1="190.6" x2="560.9" y2="190.6" stroke="#707070" stroke-width="0.85"/>
<line x1="546.1" y1="200.1" x2="560.9" y2="200.1" stroke="#707070" stroke-width="0.85"/>
<line x1="546.1" y1="209.6" x2="560.9" y2="209.6" stroke="#707070" stroke-width="0.85"/>
<line x1="546.1" y1="238.3" x2="560.9" y2="238.3" stroke="#707070" stroke-width="0.85"/>
<line x1="546.1" y1="247.6" x2="560.9" y2="247.6" stroke="#707070" stroke-width="0.85"/>
<line x1="546.1" y1="256.9" x2="560.9" y2="256.9" stroke="#707070" stroke-width="0.85"/>
<rect x="546.1" y="219.1" width="14.8" height="9.9" fill="#c8c8c8" stroke="#8a8a8a" stroke-width="0.9"/>
<line x1="547.2" y1="181.1" x2="547.2" y2="266.2" stroke="#e2e2e2" stroke-width="0.7"/>
<line x1="559.8" y1="181.1" x2="559.8" y2="266.2" stroke="#e2e2e2" stroke-width="0.7"/>
<line x1="553.5" y1="190.6" x2="553.5" y2="185.6" stroke="#d8102c" stroke-width="1.75"/>
<polygon points="551.2,186.1 555.8,186.1 553.5,182.6" fill="#d8102c"/>
<line x1="553.5" y1="190.6" x2="553.5" y2="196.29999999999998" stroke="#1590da" stroke-width="1.75"/>
<polygon points="551.2,195.79999999999998 555.8,195.79999999999998 553.5,199.29999999999998" fill="#1590da"/>
<line x1="553.5" y1="209.6" x2="553.5" y2="204.6" stroke="#d8102c" stroke-width="1.75"/>
<polygon points="551.2,205.1 555.8,205.1 553.5,201.6" fill="#d8102c"/>
<line x1="553.5" y1="209.6" x2="553.5" y2="215.29999999999998" stroke="#1590da" stroke-width="1.75"/>
<polygon points="551.2,214.79999999999998 555.8,214.79999999999998 553.5,218.29999999999998" fill="#1590da"/>
<line x1="553.5" y1="229.0" x2="553.5" y2="234.5" stroke="#1590da" stroke-width="1.75"/>
<polygon points="551.2,234.0 555.8,234.0 553.5,237.5" fill="#1590da"/>
<line x1="553.5" y1="247.6" x2="553.5" y2="242.8" stroke="#d8102c" stroke-width="1.75"/>
<polygon points="551.2,243.3 555.8,243.3 553.5,239.8" fill="#d8102c"/>
<line x1="553.5" y1="247.6" x2="553.5" y2="253.09999999999997" stroke="#1590da" stroke-width="1.75"/>
<polygon points="551.2,252.59999999999997 555.8,252.59999999999997 553.5,256.09999999999997" fill="#1590da"/>
<line x1="553.5" y1="266.2" x2="553.5" y2="261.4" stroke="#d8102c" stroke-width="1.75"/>
<polygon points="551.2,261.9 555.8,261.9 553.5,258.4" fill="#d8102c"/>
<ellipse cx="553.7" cy="173.3" rx="4.85" ry="4.699999999999999" fill="none" stroke="#444" stroke-width="0.6"/>
<text x="553.7" y="176.01" font-size="8.2" text-anchor="middle" fill="#111" class="sf" stroke="#111" stroke-width="0.12">6</text>
<rect x="570.2" y="35.3" width="14.8" height="85.9" fill="#fff" stroke="#858585" stroke-width="0.9"/>
<line x1="570.2" y1="44.55" x2="585.0" y2="44.55" stroke="#707070" stroke-width="0.85"/>
<line x1="570.2" y1="53.8" x2="585.0" y2="53.8" stroke="#707070" stroke-width="0.85"/>
<line x1="570.2" y1="63.05" x2="585.0" y2="63.05" stroke="#707070" stroke-width="0.85"/>
<line x1="570.2" y1="92.55" x2="585.0" y2="92.55" stroke="#707070" stroke-width="0.85"/>
<line x1="570.2" y1="102.1" x2="585.0" y2="102.1" stroke="#707070" stroke-width="0.85"/>
<line x1="570.2" y1="111.65" x2="585.0" y2="111.65" stroke="#707070" stroke-width="0.85"/>
<rect x="570.2" y="72.3" width="14.8" height="10.7" fill="#c8c8c8" stroke="#8a8a8a" stroke-width="0.9"/>
<line x1="571.3000000000001" y1="35.3" x2="571.3000000000001" y2="121.2" stroke="#e2e2e2" stroke-width="0.7"/>
<line x1="583.9" y1="35.3" x2="583.9" y2="121.2" stroke="#e2e2e2" stroke-width="0.7"/>
<line x1="577.6" y1="44.55" x2="577.6" y2="39.8" stroke="#d8102c" stroke-width="1.75"/>
<polygon points="575.3000000000001,40.3 579.9,40.3 577.6,36.8" fill="#d8102c"/>
<line x1="577.6" y1="44.55" x2="577.6" y2="50.0" stroke="#1590da" stroke-width="1.75"/>
<polygon points="575.3000000000001,49.5 579.9,49.5 577.6,53.0" fill="#1590da"/>
<line x1="577.6" y1="63.05" x2="577.6" y2="58.3" stroke="#d8102c" stroke-width="1.75"/>
<polygon points="575.3000000000001,58.8 579.9,58.8 577.6,55.3" fill="#d8102c"/>
<rect x="570.2" y="63.05" width="14.8" height="9.25" fill="#fff" stroke="#f39aa0" stroke-width="0.9"/>
<line x1="579.7" y1="71.2" x2="577.05" y2="66.98" stroke="#d8102c" stroke-width="1.7"/>
<polygon points="579.26,66.18 575.37,68.62 575.4,64.35" fill="#d8102c"/>
<line x1="577.6" y1="83.0" x2="577.6" y2="88.75" stroke="#1590da" stroke-width="1.75"/>
<polygon points="575.3000000000001,88.25 579.9,88.25 577.6,91.75" fill="#1590da"/>
<line x1="577.6" y1="102.1" x2="577.6" y2="97.05" stroke="#d8102c" stroke-width="1.75"/>
<polygon points="575.3000000000001,97.55 579.9,97.55 577.6,94.05" fill="#d8102c"/>
<line x1="577.6" y1="102.1" x2="577.6" y2="107.85000000000001" stroke="#1590da" stroke-width="1.75"/>
<polygon points="575.3000000000001,107.35000000000001 579.9,107.35000000000001 577.6,110.85000000000001" fill="#1590da"/>
<line x1="577.6" y1="121.2" x2="577.6" y2="116.15" stroke="#d8102c" stroke-width="1.75"/>
<polygon points="575.3000000000001,116.65 579.9,116.65 577.6,113.15" fill="#d8102c"/>
<ellipse cx="577.8000000000001" cy="26.9" rx="4.85" ry="4.699999999999999" fill="none" stroke="#444" stroke-width="0.6"/>
<text x="577.8000000000001" y="29.61" font-size="8.2" text-anchor="middle" fill="#111" class="sf" stroke="#111" stroke-width="0.12">3</text>
<rect x="570.2" y="181.1" width="14.8" height="85.1" fill="#fff" stroke="#858585" stroke-width="0.9"/>
<line x1="570.2" y1="190.6" x2="585.0" y2="190.6" stroke="#707070" stroke-width="0.85"/>
<line x1="570.2" y1="200.1" x2="585.0" y2="200.1" stroke="#707070" stroke-width="0.85"/>
<line x1="570.2" y1="209.6" x2="585.0" y2="209.6" stroke="#707070" stroke-width="0.85"/>
<line x1="570.2" y1="238.3" x2="585.0" y2="238.3" stroke="#707070" stroke-width="0.85"/>
<line x1="570.2" y1="247.6" x2="585.0" y2="247.6" stroke="#707070" stroke-width="0.85"/>
<line x1="570.2" y1="256.9" x2="585.0" y2="256.9" stroke="#707070" stroke-width="0.85"/>
<rect x="570.2" y="219.1" width="14.8" height="9.9" fill="#c8c8c8" stroke="#8a8a8a" stroke-width="0.9"/>
<line x1="571.3000000000001" y1="181.1" x2="571.3000000000001" y2="266.2" stroke="#e2e2e2" stroke-width="0.7"/>
<line x1="583.9" y1="181.1" x2="583.9" y2="266.2" stroke="#e2e2e2" stroke-width="0.7"/>
<line x1="577.6" y1="190.6" x2="577.6" y2="185.6" stroke="#d8102c" stroke-width="1.75"/>
<polygon points="575.3000000000001,186.1 579.9,186.1 577.6,182.6" fill="#d8102c"/>
<line x1="577.6" y1="190.6" x2="577.6" y2="196.29999999999998" stroke="#1590da" stroke-width="1.75"/>
<polygon points="575.3000000000001,195.79999999999998 579.9,195.79999999999998 577.6,199.29999999999998" fill="#1590da"/>
<line x1="577.6" y1="209.6" x2="577.6" y2="204.6" stroke="#d8102c" stroke-width="1.75"/>
<polygon points="575.3000000000001,205.1 579.9,205.1 577.6,201.6" fill="#d8102c"/>
<line x1="577.6" y1="209.6" x2="577.6" y2="215.29999999999998" stroke="#1590da" stroke-width="1.75"/>
<polygon points="575.3000000000001,214.79999999999998 579.9,214.79999999999998 577.6,218.29999999999998" fill="#1590da"/>
<rect x="570.2" y="229.0" width="14.8" height="9.300000000000011" fill="#fff" stroke="#a5daf7" stroke-width="0.9"/>
<line x1="575.5" y1="230.5" x2="577.95" y2="234.38" stroke="#1590da" stroke-width="1.7"/>
<polygon points="575.73,235.18 579.62,232.73 579.6,237.0" fill="#1590da"/>
<line x1="577.6" y1="238.3" x2="577.6" y2="243.79999999999998" stroke="#1590da" stroke-width="1.75"/>
<polygon points="575.3000000000001,243.29999999999998 579.9,243.29999999999998 577.6,246.79999999999998" fill="#1590da"/>
<line x1="577.6" y1="256.9" x2="577.6" y2="252.1" stroke="#d8102c" stroke-width="1.75"/>
<polygon points="575.3000000000001,252.6 579.9,252.6 577.6,249.1" fill="#d8102c"/>
<line x1="577.6" y1="256.9" x2="577.6" y2="262.4" stroke="#1590da" stroke-width="1.75"/>
<polygon points="575.3000000000001,261.9 579.9,261.9 577.6,265.4" fill="#1590da"/>
<ellipse cx="577.8000000000001" cy="173.3" rx="4.85" ry="4.699999999999999" fill="none" stroke="#444" stroke-width="0.6"/>
<text x="577.8000000000001" y="176.01" font-size="8.2" text-anchor="middle" fill="#111" class="sf" stroke="#111" stroke-width="0.12">5</text>
<rect x="594.5" y="35.3" width="14.8" height="85.9" fill="#fff" stroke="#858585" stroke-width="0.9"/>
<line x1="594.5" y1="44.55" x2="609.3" y2="44.55" stroke="#707070" stroke-width="0.85"/>
<line x1="594.5" y1="53.8" x2="609.3" y2="53.8" stroke="#707070" stroke-width="0.85"/>
<line x1="594.5" y1="63.05" x2="609.3" y2="63.05" stroke="#707070" stroke-width="0.85"/>
<line x1="594.5" y1="92.55" x2="609.3" y2="92.55" stroke="#707070" stroke-width="0.85"/>
<line x1="594.5" y1="102.1" x2="609.3" y2="102.1" stroke="#707070" stroke-width="0.85"/>
<line x1="594.5" y1="111.65" x2="609.3" y2="111.65" stroke="#707070" stroke-width="0.85"/>
<rect x="594.5" y="72.3" width="14.8" height="10.7" fill="#c8c8c8" stroke="#8a8a8a" stroke-width="0.9"/>
<line x1="595.6" y1="35.3" x2="595.6" y2="121.2" stroke="#e2e2e2" stroke-width="0.7"/>
<line x1="608.1999999999999" y1="35.3" x2="608.1999999999999" y2="121.2" stroke="#e2e2e2" stroke-width="0.7"/>
<line x1="601.9" y1="35.3" x2="601.9" y2="40.75" stroke="#1590da" stroke-width="1.75"/>
<polygon points="599.6,40.25 604.1999999999999,40.25 601.9,43.75" fill="#1590da"/>
<line x1="601.9" y1="53.8" x2="601.9" y2="49.05" stroke="#d8102c" stroke-width="1.75"/>
<polygon points="599.6,49.55 604.1999999999999,49.55 601.9,46.05" fill="#d8102c"/>
<line x1="601.9" y1="53.8" x2="601.9" y2="59.25" stroke="#1590da" stroke-width="1.75"/>
<polygon points="599.6,58.75 604.1999999999999,58.75 601.9,62.25" fill="#1590da"/>
<line x1="601.9" y1="72.3" x2="601.9" y2="67.55" stroke="#d8102c" stroke-width="1.75"/>
<polygon points="599.6,68.05 604.1999999999999,68.05 601.9,64.55" fill="#d8102c"/>
<line x1="601.9" y1="83.0" x2="601.9" y2="88.75" stroke="#1590da" stroke-width="1.75"/>
<polygon points="599.6,88.25 604.1999999999999,88.25 601.9,91.75" fill="#1590da"/>
<line x1="601.9" y1="102.1" x2="601.9" y2="97.05" stroke="#d8102c" stroke-width="1.75"/>
<polygon points="599.6,97.55 604.1999999999999,97.55 601.9,94.05" fill="#d8102c"/>
<line x1="601.9" y1="102.1" x2="601.9" y2="107.85000000000001" stroke="#1590da" stroke-width="1.75"/>
<polygon points="599.6,107.35000000000001 604.1999999999999,107.35000000000001 601.9,110.85000000000001" fill="#1590da"/>
<line x1="601.9" y1="121.2" x2="601.9" y2="116.15" stroke="#d8102c" stroke-width="1.75"/>
<polygon points="599.6,116.65 604.1999999999999,116.65 601.9,113.15" fill="#d8102c"/>
<ellipse cx="602.1" cy="26.9" rx="4.85" ry="4.699999999999999" fill="none" stroke="#444" stroke-width="0.6"/>
<text x="602.1" y="29.61" font-size="8.2" text-anchor="middle" fill="#111" class="sf" stroke="#111" stroke-width="0.12">4</text>
<rect x="594.5" y="181.1" width="14.8" height="85.1" fill="#fff" stroke="#858585" stroke-width="0.9"/>
<line x1="594.5" y1="190.6" x2="609.3" y2="190.6" stroke="#707070" stroke-width="0.85"/>
<line x1="594.5" y1="200.1" x2="609.3" y2="200.1" stroke="#707070" stroke-width="0.85"/>
<line x1="594.5" y1="209.6" x2="609.3" y2="209.6" stroke="#707070" stroke-width="0.85"/>
<line x1="594.5" y1="238.3" x2="609.3" y2="238.3" stroke="#707070" stroke-width="0.85"/>
<line x1="594.5" y1="247.6" x2="609.3" y2="247.6" stroke="#707070" stroke-width="0.85"/>
<line x1="594.5" y1="256.9" x2="609.3" y2="256.9" stroke="#707070" stroke-width="0.85"/>
<rect x="594.5" y="219.1" width="14.8" height="9.9" fill="#c8c8c8" stroke="#8a8a8a" stroke-width="0.9"/>
<line x1="595.6" y1="181.1" x2="595.6" y2="266.2" stroke="#e2e2e2" stroke-width="0.7"/>
<line x1="608.1999999999999" y1="181.1" x2="608.1999999999999" y2="266.2" stroke="#e2e2e2" stroke-width="0.7"/>
<line x1="601.9" y1="190.6" x2="601.9" y2="185.6" stroke="#d8102c" stroke-width="1.75"/>
<polygon points="599.6,186.1 604.1999999999999,186.1 601.9,182.6" fill="#d8102c"/>
<line x1="601.9" y1="190.6" x2="601.9" y2="196.29999999999998" stroke="#1590da" stroke-width="1.75"/>
<polygon points="599.6,195.79999999999998 604.1999999999999,195.79999999999998 601.9,199.29999999999998" fill="#1590da"/>
<line x1="601.9" y1="209.6" x2="601.9" y2="204.6" stroke="#d8102c" stroke-width="1.75"/>
<polygon points="599.6,205.1 604.1999999999999,205.1 601.9,201.6" fill="#d8102c"/>
<line x1="601.9" y1="209.6" x2="601.9" y2="215.29999999999998" stroke="#1590da" stroke-width="1.75"/>
<polygon points="599.6,214.79999999999998 604.1999999999999,214.79999999999998 601.9,218.29999999999998" fill="#1590da"/>
<line x1="601.9" y1="238.3" x2="601.9" y2="233.5" stroke="#d8102c" stroke-width="1.75"/>
<polygon points="599.6,234.0 604.1999999999999,234.0 601.9,230.5" fill="#d8102c"/>
<line x1="601.9" y1="238.3" x2="601.9" y2="243.79999999999998" stroke="#1590da" stroke-width="1.75"/>
<polygon points="599.6,243.29999999999998 604.1999999999999,243.29999999999998 601.9,246.79999999999998" fill="#1590da"/>
<line x1="601.9" y1="256.9" x2="601.9" y2="252.1" stroke="#d8102c" stroke-width="1.75"/>
<polygon points="599.6,252.6 604.1999999999999,252.6 601.9,249.1" fill="#d8102c"/>
<line x1="601.9" y1="256.9" x2="601.9" y2="262.4" stroke="#1590da" stroke-width="1.75"/>
<polygon points="599.6,261.9 604.1999999999999,261.9 601.9,265.4" fill="#1590da"/>
<ellipse cx="602.1" cy="173.3" rx="4.85" ry="4.699999999999999" fill="none" stroke="#444" stroke-width="0.6"/>
<text x="602.1" y="176.01" font-size="8.2" text-anchor="middle" fill="#111" class="sf" stroke="#111" stroke-width="0.12">4</text>
<rect x="619.2" y="35.3" width="14.8" height="85.9" fill="#fff" stroke="#858585" stroke-width="0.9"/>
<line x1="619.2" y1="44.55" x2="634.0" y2="44.55" stroke="#707070" stroke-width="0.85"/>
<line x1="619.2" y1="53.8" x2="634.0" y2="53.8" stroke="#707070" stroke-width="0.85"/>
<line x1="619.2" y1="63.05" x2="634.0" y2="63.05" stroke="#707070" stroke-width="0.85"/>
<line x1="619.2" y1="92.55" x2="634.0" y2="92.55" stroke="#707070" stroke-width="0.85"/>
<line x1="619.2" y1="102.1" x2="634.0" y2="102.1" stroke="#707070" stroke-width="0.85"/>
<line x1="619.2" y1="111.65" x2="634.0" y2="111.65" stroke="#707070" stroke-width="0.85"/>
<rect x="619.2" y="72.3" width="14.8" height="10.7" fill="#c8c8c8" stroke="#8a8a8a" stroke-width="0.9"/>
<line x1="620.3000000000001" y1="35.3" x2="620.3000000000001" y2="121.2" stroke="#e2e2e2" stroke-width="0.7"/>
<line x1="632.9" y1="35.3" x2="632.9" y2="121.2" stroke="#e2e2e2" stroke-width="0.7"/>
<line x1="626.6" y1="35.3" x2="626.6" y2="40.75" stroke="#1590da" stroke-width="1.75"/>
<polygon points="624.3000000000001,40.25 628.9,40.25 626.6,43.75" fill="#1590da"/>
<line x1="626.6" y1="53.8" x2="626.6" y2="49.05" stroke="#d8102c" stroke-width="1.75"/>
<polygon points="624.3000000000001,49.55 628.9,49.55 626.6,46.05" fill="#d8102c"/>
<line x1="626.6" y1="53.8" x2="626.6" y2="59.25" stroke="#1590da" stroke-width="1.75"/>
<polygon points="624.3000000000001,58.75 628.9,58.75 626.6,62.25" fill="#1590da"/>
<line x1="626.6" y1="72.3" x2="626.6" y2="67.55" stroke="#d8102c" stroke-width="1.75"/>
<polygon points="624.3000000000001,68.05 628.9,68.05 626.6,64.55" fill="#d8102c"/>
<rect x="619.2" y="83.0" width="14.8" height="9.549999999999997" fill="#fff" stroke="#f39aa0" stroke-width="0.9"/>
<line x1="628.7" y1="91.45" x2="626.00" y2="86.96" stroke="#d8102c" stroke-width="1.7"/>
<polygon points="628.23,86.20 624.28,88.57 624.4,84.3" fill="#d8102c"/>
<line x1="626.6" y1="102.1" x2="626.6" y2="97.05" stroke="#d8102c" stroke-width="1.75"/>
<polygon points="624.3000000000001,97.55 628.9,97.55 626.6,94.05" fill="#d8102c"/>
<line x1="626.6" y1="102.1" x2="626.6" y2="107.85000000000001" stroke="#1590da" stroke-width="1.75"/>
<polygon points="624.3000000000001,107.35000000000001 628.9,107.35000000000001 626.6,110.85000000000001" fill="#1590da"/>
<line x1="626.6" y1="121.2" x2="626.6" y2="116.15" stroke="#d8102c" stroke-width="1.75"/>
<polygon points="624.3000000000001,116.65 628.9,116.65 626.6,113.15" fill="#d8102c"/>
<ellipse cx="626.8000000000001" cy="26.9" rx="4.85" ry="4.699999999999999" fill="none" stroke="#444" stroke-width="0.6"/>
<text x="626.8000000000001" y="29.61" font-size="8.2" text-anchor="middle" fill="#111" class="sf" stroke="#111" stroke-width="0.12">5</text>
<rect x="619.2" y="181.1" width="14.8" height="85.1" fill="#fff" stroke="#858585" stroke-width="0.9"/>
<line x1="619.2" y1="190.6" x2="634.0" y2="190.6" stroke="#707070" stroke-width="0.85"/>
<line x1="619.2" y1="200.1" x2="634.0" y2="200.1" stroke="#707070" stroke-width="0.85"/>
<line x1="619.2" y1="209.6" x2="634.0" y2="209.6" stroke="#707070" stroke-width="0.85"/>
<line x1="619.2" y1="238.3" x2="634.0" y2="238.3" stroke="#707070" stroke-width="0.85"/>
<line x1="619.2" y1="247.6" x2="634.0" y2="247.6" stroke="#707070" stroke-width="0.85"/>
<line x1="619.2" y1="256.9" x2="634.0" y2="256.9" stroke="#707070" stroke-width="0.85"/>
<rect x="619.2" y="219.1" width="14.8" height="9.9" fill="#c8c8c8" stroke="#8a8a8a" stroke-width="0.9"/>
<line x1="620.3000000000001" y1="181.1" x2="620.3000000000001" y2="266.2" stroke="#e2e2e2" stroke-width="0.7"/>
<line x1="632.9" y1="181.1" x2="632.9" y2="266.2" stroke="#e2e2e2" stroke-width="0.7"/>
<line x1="626.6" y1="181.1" x2="626.6" y2="186.79999999999998" stroke="#1590da" stroke-width="1.75"/>
<polygon points="624.3000000000001,186.29999999999998 628.9,186.29999999999998 626.6,189.79999999999998" fill="#1590da"/>
<line x1="626.6" y1="200.1" x2="626.6" y2="195.1" stroke="#d8102c" stroke-width="1.75"/>
<polygon points="624.3000000000001,195.6 628.9,195.6 626.6,192.1" fill="#d8102c"/>
<line x1="626.6" y1="200.1" x2="626.6" y2="205.79999999999998" stroke="#1590da" stroke-width="1.75"/>
<polygon points="624.3000000000001,205.29999999999998 628.9,205.29999999999998 626.6,208.79999999999998" fill="#1590da"/>
<rect x="619.2" y="209.6" width="14.8" height="9.5" fill="#fff" stroke="#a5daf7" stroke-width="0.9"/>
<line x1="624.5" y1="211.1" x2="626.98" y2="215.16" stroke="#1590da" stroke-width="1.7"/>
<polygon points="624.76,215.93 628.68,213.53 628.6,217.79999999999998" fill="#1590da"/>
<line x1="626.6" y1="238.3" x2="626.6" y2="233.5" stroke="#d8102c" stroke-width="1.75"/>
<polygon points="624.3000000000001,234.0 628.9,234.0 626.6,230.5" fill="#d8102c"/>
<line x1="626.6" y1="238.3" x2="626.6" y2="243.79999999999998" stroke="#1590da" stroke-width="1.75"/>
<polygon points="624.3000000000001,243.29999999999998 628.9,243.29999999999998 626.6,246.79999999999998" fill="#1590da"/>
<line x1="626.6" y1="256.9" x2="626.6" y2="252.1" stroke="#d8102c" stroke-width="1.75"/>
<polygon points="624.3000000000001,252.6 628.9,252.6 626.6,249.1" fill="#d8102c"/>
<line x1="626.6" y1="256.9" x2="626.6" y2="262.4" stroke="#1590da" stroke-width="1.75"/>
<polygon points="624.3000000000001,261.9 628.9,261.9 626.6,265.4" fill="#1590da"/>
<ellipse cx="626.8000000000001" cy="173.3" rx="4.85" ry="4.699999999999999" fill="none" stroke="#444" stroke-width="0.6"/>
<text x="626.8000000000001" y="176.01" font-size="8.2" text-anchor="middle" fill="#111" class="sf" stroke="#111" stroke-width="0.12">3</text>
<rect x="643.8000000000001" y="35.3" width="14.8" height="85.9" fill="#fff" stroke="#858585" stroke-width="0.9"/>
<line x1="643.8000000000001" y1="44.55" x2="658.6" y2="44.55" stroke="#707070" stroke-width="0.85"/>
<line x1="643.8000000000001" y1="53.8" x2="658.6" y2="53.8" stroke="#707070" stroke-width="0.85"/>
<line x1="643.8000000000001" y1="63.05" x2="658.6" y2="63.05" stroke="#707070" stroke-width="0.85"/>
<line x1="643.8000000000001" y1="92.55" x2="658.6" y2="92.55" stroke="#707070" stroke-width="0.85"/>
<line x1="643.8000000000001" y1="102.1" x2="658.6" y2="102.1" stroke="#707070" stroke-width="0.85"/>
<line x1="643.8000000000001" y1="111.65" x2="658.6" y2="111.65" stroke="#707070" stroke-width="0.85"/>
<rect x="643.8000000000001" y="72.3" width="14.8" height="10.7" fill="#c8c8c8" stroke="#8a8a8a" stroke-width="0.9"/>
<line x1="644.9000000000001" y1="35.3" x2="644.9000000000001" y2="121.2" stroke="#e2e2e2" stroke-width="0.7"/>
<line x1="657.5" y1="35.3" x2="657.5" y2="121.2" stroke="#e2e2e2" stroke-width="0.7"/>
<line x1="651.2" y1="35.3" x2="651.2" y2="40.75" stroke="#1590da" stroke-width="1.75"/>
<polygon points="648.9000000000001,40.25 653.5,40.25 651.2,43.75" fill="#1590da"/>
<line x1="651.2" y1="53.8" x2="651.2" y2="49.05" stroke="#d8102c" stroke-width="1.75"/>
<polygon points="648.9000000000001,49.55 653.5,49.55 651.2,46.05" fill="#d8102c"/>
<line x1="651.2" y1="53.8" x2="651.2" y2="59.25" stroke="#1590da" stroke-width="1.75"/>
<polygon points="648.9000000000001,58.75 653.5,58.75 651.2,62.25" fill="#1590da"/>
<line x1="651.2" y1="72.3" x2="651.2" y2="67.55" stroke="#d8102c" stroke-width="1.75"/>
<polygon points="648.9000000000001,68.05 653.5,68.05 651.2,64.55" fill="#d8102c"/>
<line x1="651.2" y1="92.55" x2="651.2" y2="87.5" stroke="#d8102c" stroke-width="1.75"/>
<polygon points="648.9000000000001,88.0 653.5,88.0 651.2,84.5" fill="#d8102c"/>
<line x1="651.2" y1="92.55" x2="651.2" y2="98.3" stroke="#1590da" stroke-width="1.75"/>
<polygon points="648.9000000000001,97.8 653.5,97.8 651.2,101.3" fill="#1590da"/>
<line x1="651.2" y1="111.65" x2="651.2" y2="106.6" stroke="#d8102c" stroke-width="1.75"/>
<polygon points="648.9000000000001,107.1 653.5,107.1 651.2,103.6" fill="#d8102c"/>
<line x1="651.2" y1="111.65" x2="651.2" y2="117.4" stroke="#1590da" stroke-width="1.75"/>
<polygon points="648.9000000000001,116.9 653.5,116.9 651.2,120.4" fill="#1590da"/>
<ellipse cx="651.4000000000001" cy="26.9" rx="4.85" ry="4.699999999999999" fill="none" stroke="#444" stroke-width="0.6"/>
<text x="651.4000000000001" y="29.61" font-size="8.2" text-anchor="middle" fill="#111" class="sf" stroke="#111" stroke-width="0.12">6</text>
<rect x="643.8000000000001" y="181.1" width="14.8" height="85.1" fill="#fff" stroke="#858585" stroke-width="0.9"/>
<line x1="643.8000000000001" y1="190.6" x2="658.6" y2="190.6" stroke="#707070" stroke-width="0.85"/>
<line x1="643.8000000000001" y1="200.1" x2="658.6" y2="200.1" stroke="#707070" stroke-width="0.85"/>
<line x1="643.8000000000001" y1="209.6" x2="658.6" y2="209.6" stroke="#707070" stroke-width="0.85"/>
<line x1="643.8000000000001" y1="238.3" x2="658.6" y2="238.3" stroke="#707070" stroke-width="0.85"/>
<line x1="643.8000000000001" y1="247.6" x2="658.6" y2="247.6" stroke="#707070" stroke-width="0.85"/>
<line x1="643.8000000000001" y1="256.9" x2="658.6" y2="256.9" stroke="#707070" stroke-width="0.85"/>
<rect x="643.8000000000001" y="219.1" width="14.8" height="9.9" fill="#c8c8c8" stroke="#8a8a8a" stroke-width="0.9"/>
<line x1="644.9000000000001" y1="181.1" x2="644.9000000000001" y2="266.2" stroke="#e2e2e2" stroke-width="0.7"/>
<line x1="657.5" y1="181.1" x2="657.5" y2="266.2" stroke="#e2e2e2" stroke-width="0.7"/>
<line x1="651.2" y1="181.1" x2="651.2" y2="186.79999999999998" stroke="#1590da" stroke-width="1.75"/>
<polygon points="648.9000000000001,186.29999999999998 653.5,186.29999999999998 651.2,189.79999999999998" fill="#1590da"/>
<line x1="651.2" y1="200.1" x2="651.2" y2="195.1" stroke="#d8102c" stroke-width="1.75"/>
<polygon points="648.9000000000001,195.6 653.5,195.6 651.2,192.1" fill="#d8102c"/>
<line x1="651.2" y1="200.1" x2="651.2" y2="205.79999999999998" stroke="#1590da" stroke-width="1.75"/>
<polygon points="648.9000000000001,205.29999999999998 653.5,205.29999999999998 651.2,208.79999999999998" fill="#1590da"/>
<line x1="651.2" y1="219.1" x2="651.2" y2="214.1" stroke="#d8102c" stroke-width="1.75"/>
<polygon points="648.9000000000001,214.6 653.5,214.6 651.2,211.1" fill="#d8102c"/>
<line x1="651.2" y1="238.3" x2="651.2" y2="233.5" stroke="#d8102c" stroke-width="1.75"/>
<polygon points="648.9000000000001,234.0 653.5,234.0 651.2,230.5" fill="#d8102c"/>
<line x1="651.2" y1="238.3" x2="651.2" y2="243.79999999999998" stroke="#1590da" stroke-width="1.75"/>
<polygon points="648.9000000000001,243.29999999999998 653.5,243.29999999999998 651.2,246.79999999999998" fill="#1590da"/>
<line x1="651.2" y1="256.9" x2="651.2" y2="252.1" stroke="#d8102c" stroke-width="1.75"/>
<polygon points="648.9000000000001,252.6 653.5,252.6 651.2,249.1" fill="#d8102c"/>
<line x1="651.2" y1="256.9" x2="651.2" y2="262.4" stroke="#1590da" stroke-width="1.75"/>
<polygon points="648.9000000000001,261.9 653.5,261.9 651.2,265.4" fill="#1590da"/>
<ellipse cx="651.4000000000001" cy="173.3" rx="4.85" ry="4.699999999999999" fill="none" stroke="#444" stroke-width="0.6"/>
<text x="651.4000000000001" y="176.01" font-size="8.2" text-anchor="middle" fill="#111" class="sf" stroke="#111" stroke-width="0.12">2</text>
<rect x="668.2" y="35.3" width="14.8" height="85.9" fill="#fff" stroke="#858585" stroke-width="0.9"/>
<line x1="668.2" y1="44.55" x2="683.0" y2="44.55" stroke="#707070" stroke-width="0.85"/>
<line x1="668.2" y1="53.8" x2="683.0" y2="53.8" stroke="#707070" stroke-width="0.85"/>
<line x1="668.2" y1="63.05" x2="683.0" y2="63.05" stroke="#707070" stroke-width="0.85"/>
<line x1="668.2" y1="92.55" x2="683.0" y2="92.55" stroke="#707070" stroke-width="0.85"/>
<line x1="668.2" y1="102.1" x2="683.0" y2="102.1" stroke="#707070" stroke-width="0.85"/>
<line x1="668.2" y1="111.65" x2="683.0" y2="111.65" stroke="#707070" stroke-width="0.85"/>
<rect x="668.2" y="72.3" width="14.8" height="10.7" fill="#c8c8c8" stroke="#8a8a8a" stroke-width="0.9"/>
<line x1="669.3000000000001" y1="35.3" x2="669.3000000000001" y2="121.2" stroke="#e2e2e2" stroke-width="0.7"/>
<line x1="681.9" y1="35.3" x2="681.9" y2="121.2" stroke="#e2e2e2" stroke-width="0.7"/>
<line x1="675.6" y1="44.55" x2="675.6" y2="39.8" stroke="#d8102c" stroke-width="1.75"/>
<polygon points="673.3000000000001,40.3 677.9,40.3 675.6,36.8" fill="#d8102c"/>
<line x1="675.6" y1="53.8" x2="675.6" y2="49.05" stroke="#d8102c" stroke-width="1.75"/>
<polygon points="673.3000000000001,49.55 677.9,49.55 675.6,46.05" fill="#d8102c"/>
<line x1="675.6" y1="63.05" x2="675.6" y2="58.3" stroke="#d8102c" stroke-width="1.75"/>
<polygon points="673.3000000000001,58.8 677.9,58.8 675.6,55.3" fill="#d8102c"/>
<line x1="675.6" y1="72.3" x2="675.6" y2="67.55" stroke="#d8102c" stroke-width="1.75"/>
<polygon points="673.3000000000001,68.05 677.9,68.05 675.6,64.55" fill="#d8102c"/>
<line x1="675.6" y1="92.55" x2="675.6" y2="87.5" stroke="#d8102c" stroke-width="1.75"/>
<polygon points="673.3000000000001,88.0 677.9,88.0 675.6,84.5" fill="#d8102c"/>
<line x1="675.6" y1="102.1" x2="675.6" y2="97.05" stroke="#d8102c" stroke-width="1.75"/>
<polygon points="673.3000000000001,97.55 677.9,97.55 675.6,94.05" fill="#d8102c"/>
<line x1="675.6" y1="111.65" x2="675.6" y2="106.6" stroke="#d8102c" stroke-width="1.75"/>
<polygon points="673.3000000000001,107.1 677.9,107.1 675.6,103.6" fill="#d8102c"/>
<line x1="675.6" y1="121.2" x2="675.6" y2="116.15" stroke="#d8102c" stroke-width="1.75"/>
<polygon points="673.3000000000001,116.65 677.9,116.65 675.6,113.15" fill="#d8102c"/>
<ellipse cx="675.8000000000001" cy="26.9" rx="4.85" ry="4.699999999999999" fill="none" stroke="#444" stroke-width="0.6"/>
<text x="675.8000000000001" y="29.61" font-size="8.2" text-anchor="middle" fill="#111" class="sf" stroke="#111" stroke-width="0.12">7</text>
<rect x="668.2" y="181.1" width="14.8" height="85.1" fill="#fff" stroke="#858585" stroke-width="0.9"/>
<line x1="668.2" y1="190.6" x2="683.0" y2="190.6" stroke="#707070" stroke-width="0.85"/>
<line x1="668.2" y1="200.1" x2="683.0" y2="200.1" stroke="#707070" stroke-width="0.85"/>
<line x1="668.2" y1="209.6" x2="683.0" y2="209.6" stroke="#707070" stroke-width="0.85"/>
<line x1="668.2" y1="238.3" x2="683.0" y2="238.3" stroke="#707070" stroke-width="0.85"/>
<line x1="668.2" y1="247.6" x2="683.0" y2="247.6" stroke="#707070" stroke-width="0.85"/>
<line x1="668.2" y1="256.9" x2="683.0" y2="256.9" stroke="#707070" stroke-width="0.85"/>
<rect x="668.2" y="219.1" width="14.8" height="9.9" fill="#c8c8c8" stroke="#8a8a8a" stroke-width="0.9"/>
<line x1="669.3000000000001" y1="181.1" x2="669.3000000000001" y2="266.2" stroke="#e2e2e2" stroke-width="0.7"/>
<line x1="681.9" y1="181.1" x2="681.9" y2="266.2" stroke="#e2e2e2" stroke-width="0.7"/>
<line x1="675.6" y1="190.6" x2="675.6" y2="185.6" stroke="#d8102c" stroke-width="1.75"/>
<polygon points="673.3000000000001,186.1 677.9,186.1 675.6,182.6" fill="#d8102c"/>
<line x1="675.6" y1="200.1" x2="675.6" y2="195.1" stroke="#d8102c" stroke-width="1.75"/>
<polygon points="673.3000000000001,195.6 677.9,195.6 675.6,192.1" fill="#d8102c"/>
<line x1="675.6" y1="209.6" x2="675.6" y2="204.6" stroke="#d8102c" stroke-width="1.75"/>
<polygon points="673.3000000000001,205.1 677.9,205.1 675.6,201.6" fill="#d8102c"/>
<line x1="675.6" y1="219.1" x2="675.6" y2="214.1" stroke="#d8102c" stroke-width="1.75"/>
<polygon points="673.3000000000001,214.6 677.9,214.6 675.6,211.1" fill="#d8102c"/>
<line x1="675.6" y1="238.3" x2="675.6" y2="233.5" stroke="#d8102c" stroke-width="1.75"/>
<polygon points="673.3000000000001,234.0 677.9,234.0 675.6,230.5" fill="#d8102c"/>
<line x1="675.6" y1="247.6" x2="675.6" y2="242.8" stroke="#d8102c" stroke-width="1.75"/>
<polygon points="673.3000000000001,243.3 677.9,243.3 675.6,239.8" fill="#d8102c"/>
<line x1="675.6" y1="256.9" x2="675.6" y2="252.1" stroke="#d8102c" stroke-width="1.75"/>
<polygon points="673.3000000000001,252.6 677.9,252.6 675.6,249.1" fill="#d8102c"/>
<line x1="675.6" y1="266.2" x2="675.6" y2="261.4" stroke="#d8102c" stroke-width="1.75"/>
<polygon points="673.3000000000001,261.9 677.9,261.9 675.6,258.4" fill="#d8102c"/>
<ellipse cx="675.8000000000001" cy="173.3" rx="4.85" ry="4.699999999999999" fill="none" stroke="#444" stroke-width="0.6"/>
<text x="675.8000000000001" y="176.01" font-size="8.2" text-anchor="middle" fill="#111" class="sf" stroke="#111" stroke-width="0.12">1</text>
<defs><linearGradient id="gl" gradientUnits="userSpaceOnUse" x1="0" y1="158" x2="0" y2="137"><stop offset="0" stop-color="#13994a"/><stop offset="1" stop-color="#f2a324"/></linearGradient><linearGradient id="gr" gradientUnits="userSpaceOnUse" x1="0" y1="136" x2="0" y2="158"><stop offset="0" stop-color="#f2a324"/><stop offset="1" stop-color="#13994a"/></linearGradient></defs>
<line x1="530.7" y1="132.6" x2="676.0" y2="132.6" stroke="#f2a324" stroke-width="1.5" />
<polyline points="668.50,129.60 676.30,132.60 668.50,135.60" fill="none" stroke="#f2a324" stroke-width="1.5" stroke-linejoin="round" stroke-linecap="round" />
<line x1="531.9" y1="161.1" x2="677.3" y2="161.1" stroke="#13994a" stroke-width="1.5" />
<polyline points="539.50,158.20 531.60,161.10 539.50,164.00" fill="none" stroke="#13994a" stroke-width="1.5" stroke-linejoin="round" stroke-linecap="round" />
<path d="M528.5,158 C520.5,152 521,141 527.3,137.2" fill="none" stroke="url(#gl)" stroke-width="1.5"/>
<polygon points="529.2,135.8 524.6,136.3 527.9,139.6" fill="#f2a324"/>
<path d="M679.8,136 C686.5,142 686,152 680.6,157.3" fill="none" stroke="url(#gr)" stroke-width="1.5"/>
<polygon points="679.3,158.8 683.6,157.4 679.6,154.8" fill="#13994a"/>
<line x1="552.4" y1="155" x2="552.4" y2="143.5" stroke="url(#gl)" stroke-width="1.3" stroke-dasharray="2.2,1.6"/>
<polyline points="550.2,143.3 552.4,140.8 554.6,143.3" fill="none" stroke="#f2a324" stroke-width="1.2"/>
<line x1="651.6" y1="139.9" x2="651.6" y2="152" stroke="url(#gr)" stroke-width="1.3" stroke-dasharray="2.2,1.6"/>
<polyline points="649.4,151.2 651.6,153.8 653.8,151.2" fill="none" stroke="#13994a" stroke-width="1.2"/>
</svg>
</body></html>
